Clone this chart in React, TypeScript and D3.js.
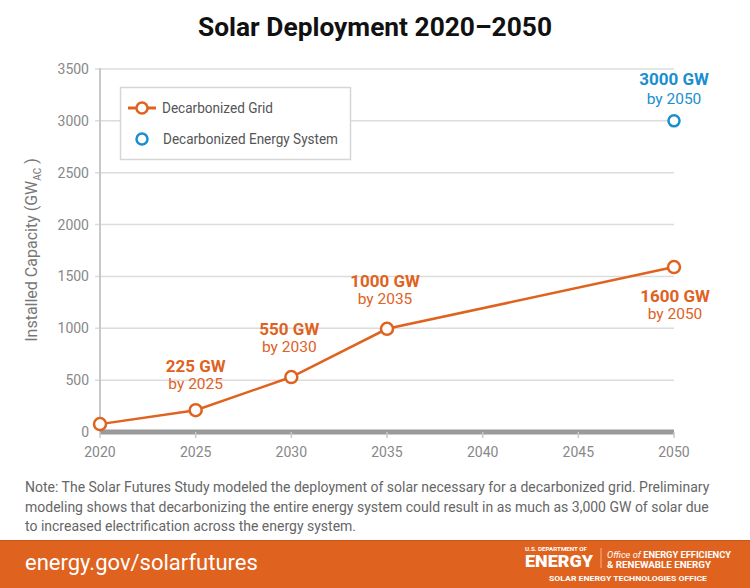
import React from "react";
import * as d3 from "d3";

const years = [2020, 2025, 2030, 2035, 2050];
const gridValues = [76, 210, 530, 995, 1590];
const systemYears = [2050];
const systemValues = [3000];
const yTicks = [0, 500, 1000, 1500, 2000, 2500, 3000, 3500];
const xTicks = [2020, 2025, 2030, 2035, 2040, 2045, 2050];
const gridLabels = [
  { year: 2025, value: "225 GW", sub: "by 2025", dx: 0, dy: -38 },
  { year: 2030, value: "550 GW", sub: "by 2030", dx: -2, dy: -42 },
  { year: 2035, value: "1000 GW", sub: "by 2035", dx: -2, dy: -42 },
  { year: 2050, value: "1600 GW", sub: "by 2050", dx: 1, dy: 35 },
];
const noteLines = [
  "Note: The Solar Futures Study modeled the deployment of solar necessary for a decarbonized grid. Preliminary",
  "modeling shows that decarbonizing the entire energy system could result in as much as 3,000 GW of solar due",
  "to increased electrification across the energy system.",
];

const ORANGE = "#e0621f";
const BLUE = "#1a8fd0";
const FONT = "Roboto, 'Open Sans', sans-serif";

export default function App() {
  const x = d3.scaleLinear().domain([2020, 2050]).range([100, 674]);
  const y = d3.scaleLinear().domain([0, 3500]).range([432, 69]);
  const line = d3
    .line<number>()
    .x((_, i) => x(years[i]))
    .y((d) => y(d));

  return (
    <svg
      width={750}
      height={588}
      style={{ position: "absolute", left: 0, top: 0, background: "#fff" }}
      fontFamily={FONT}
    >
      <rect width={750} height={588} fill="#fff" />
      <text
        x={375}
        y={36}
        textAnchor="middle"
        fontSize={25}
        fontWeight={700}
        fill="#111"
        fontFamily="Roboto, sans-serif"
        textLength={354}
        lengthAdjust="spacingAndGlyphs"
      >
        Solar Deployment 2020–2050
      </text>

      {/* gridlines */}
      {yTicks.map((t) => (
        <g key={t}>
          {t > 0 && (
            <line x1={95} x2={674} y1={y(t)} y2={y(t)} stroke="#dcdcdc" strokeWidth={1.5} />
          )}
          <text x={89} y={y(t) + 5} textAnchor="end" fontSize={14} fill="#888">
            {t}
          </text>
        </g>
      ))}
      <line x1={100} x2={100} y1={y(3500) - 1} y2={y(0)} stroke="#c8c8c8" strokeWidth={2} />
      <line x1={100} x2={674} y1={y(0)} y2={y(0)} stroke="#9a9a9a" strokeWidth={5} />
      {xTicks.map((t) => (
        <g key={t}>
          <line x1={x(t)} x2={x(t)} y1={y(0)} y2={y(0) + 6} stroke="#c8c8c8" strokeWidth={1.5} />
          <text x={x(t)} y={457} textAnchor="middle" fontSize={14} fill="#888">
            {t}
          </text>
        </g>
      ))}

      {/* y axis title */}
      <text
        transform={`translate(37,${250}) rotate(-90)`}
        textAnchor="middle"
        fontSize={16}
        fill="#777"
      >
        Installed Capacity (GW
        <tspan fontSize={10} dy={4}>AC</tspan>
        <tspan dy={-4}> )</tspan>
      </text>

      {/* legend */}
      <rect x={120.5} y={87.5} width={230} height={72} fill="#fff" stroke="#d6d6d6" strokeWidth={1.5} />
      <line x1={128} x2={156} y1={108} y2={108} stroke={ORANGE} strokeWidth={3} />
      <circle cx={142} cy={108} r={5.5} fill="#fff" stroke={ORANGE} strokeWidth={2.5} />
      <text x={162} y={113} fontSize={14.5} fill="#555" textLength={111} lengthAdjust="spacingAndGlyphs">
        Decarbonized Grid
      </text>
      <circle cx={142} cy={139} r={5.5} fill="#fff" stroke={BLUE} strokeWidth={2.5} />
      <text x={163} y={144} fontSize={14.5} fill="#555" textLength={175} lengthAdjust="spacingAndGlyphs">
        Decarbonized Energy System
      </text>

      {/* series */}
      <path d={line(gridValues) || ""} fill="none" stroke={ORANGE} strokeWidth={2.5} />
      {gridValues.map((v, i) => (
        <circle key={i} cx={x(years[i])} cy={y(v)} r={6} fill="#fff" stroke={ORANGE} strokeWidth={2.5} />
      ))}
      {systemValues.map((v, i) => (
        <circle key={i} cx={x(systemYears[i])} cy={y(v)} r={5.5} fill="#fff" stroke={BLUE} strokeWidth={2.5} />
      ))}

      {/* annotations */}
      {gridLabels.map((l) => {
        const idx = years.indexOf(l.year);
        const cx = x(l.year) + l.dx;
        const cy = y(gridValues[idx]) + l.dy;
        return (
          <g key={l.year}>
            <text x={cx} y={cy} textAnchor="middle" fontSize={17} fontWeight={700} fill={ORANGE}>
              {l.value}
            </text>
            <text x={cx} y={cy + 17} textAnchor="middle" fontSize={15.5} fill={ORANGE}>
              {l.sub}
            </text>
          </g>
        );
      })}
      <text x={x(2050)} y={85} textAnchor="middle" fontSize={17} fontWeight={700} fill={BLUE}>
        3000 GW
      </text>
      <text x={x(2050)} y={104} textAnchor="middle" fontSize={15.5} fill={BLUE}>
        by 2050
      </text>

      {/* note */}
      {noteLines.map((s, i) => (
        <text key={i} x={25} y={492 + i * 19.5} fontSize={14} fill="#666">
          {s}
        </text>
      ))}

      {/* footer */}
      <rect x={0} y={540} width={750} height={48} fill={ORANGE} />
      <line x1={0} x2={750} y1={540.5} y2={540.5} stroke="#c9561b" strokeWidth={1} />
      <text x={25} y={570} fontSize={22} fill="#fff">energy.gov/solarfutures</text>
      <text x={525} y={551} fontSize={5} fontWeight={700} fill="#fff" textLength={62} lengthAdjust="spacingAndGlyphs">
        U.S. DEPARTMENT OF
      </text>
      <text x={525} y={567} fontSize={17} fontWeight={900} fill="#fff" textLength={68} lengthAdjust="spacingAndGlyphs">
        ENERGY
      </text>
      <line x1={601} x2={601} y1={548} y2={568} stroke="#f3b08a" strokeWidth={1} />
      <text x={607} y={557.5} fontSize={8.5} fill="#fff" textLength={124} lengthAdjust="spacingAndGlyphs">
        <tspan fontStyle="italic">Office of </tspan>
        <tspan fontWeight={700}>ENERGY EFFICIENCY</tspan>
      </text>
      <text x={607} y={567.5} fontSize={8.5} fontWeight={700} fill="#fff" textLength={104} lengthAdjust="spacingAndGlyphs">
        &amp; RENEWABLE ENERGY
      </text>
      <text x={628} y={581} textAnchor="middle" fontSize={8} fontWeight={700} fill="#fff" textLength={158} lengthAdjust="spacingAndGlyphs">
        SOLAR ENERGY TECHNOLOGIES OFFICE
      </text>
    </svg>
  );
}
